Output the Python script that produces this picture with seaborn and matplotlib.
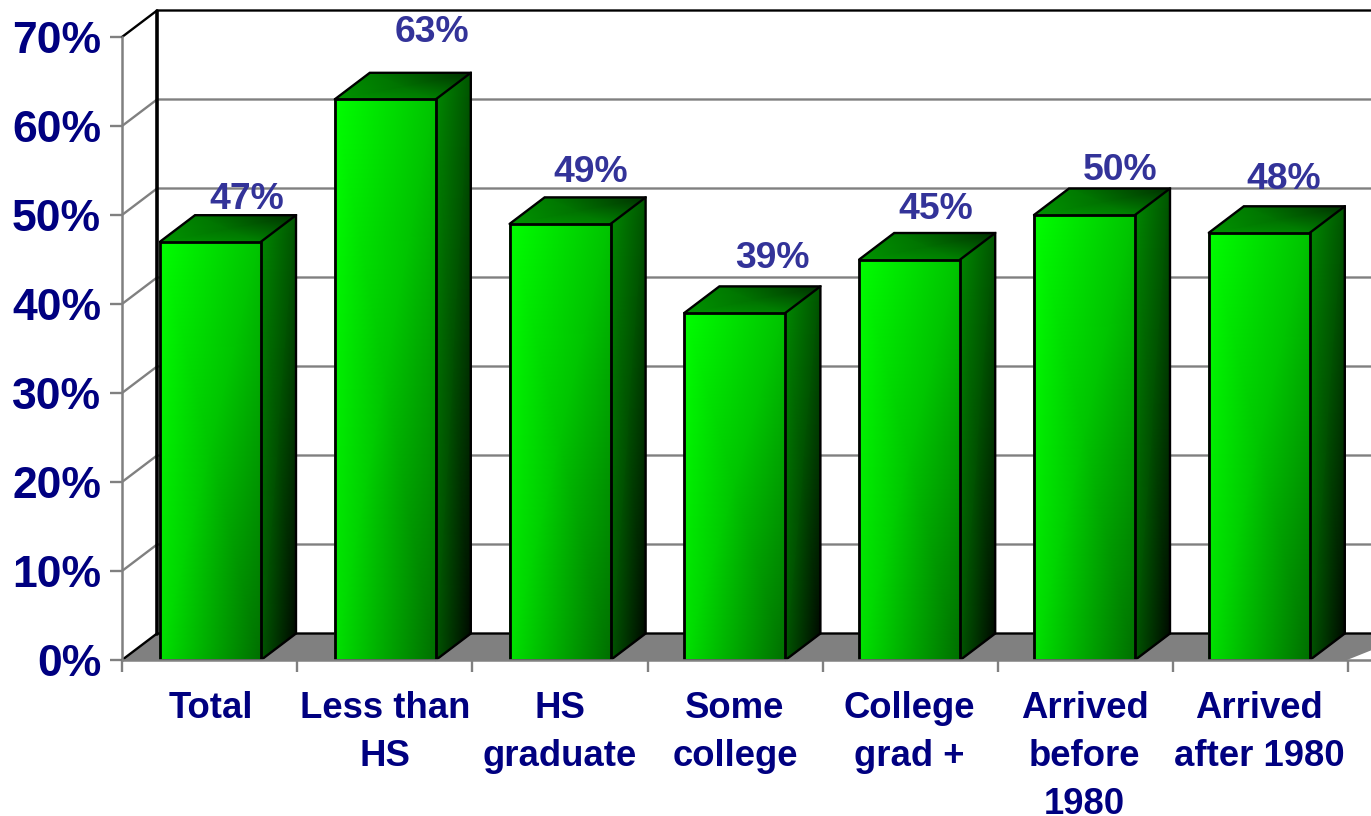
import numpy as np
import pandas as pd
import seaborn as sns
import matplotlib.pyplot as plt
from matplotlib.colors import LinearSegmentedColormap

categories = ['Total', 'Less than\nHS', 'HS\ngraduate', 'Some\ncollege', 'College\ngrad +',
              'Arrived\nbefore\n1980', 'Arrived\nafter 1980']
values = [47, 63, 49, 39, 45, 50, 48]
y_ticks = [0, 10, 20, 30, 40, 50, 60, 70]

# nudges of the value labels from the bar top, in pixels
label_dx = [36, 47, 31, 37, 26, 36, 24]
label_dy = [42, 67, 51, 54, 50, 45, 53]

NAVY = '#000080'
LABEL = '#333399'
GREY = '#808080'

sns.set_style('white')
plt.rcParams['font.family'] = ['Liberation Sans', 'DejaVu Sans']

fig = plt.figure(figsize=(13.71, 8.16), dpi=100)
ax = fig.add_axes([122 / 1371, 156 / 816, 1249 / 1371, 623 / 816])

step = 174.8
tick_step = 175.2

# numeric positions so the 3d faces can be drawn in data coordinates
df = pd.DataFrame({'pos': np.arange(len(categories)), 'val': values})
sns.barplot(data=df, x='pos', y='val', color='#00ff00', width=101 / step, native_scale=True,
            edgecolor='black', linewidth=2.0, ax=ax, zorder=6)
bars = list(ax.patches)

x0 = -(210.5 - 122) / step
ax.set_xlim(x0, x0 + 1249 / step)
ax.set_ylim(0, 70)
depth_x = 35 / step
depth_y = 26.5 / (623 / 70)
xmax = ax.get_xlim()[1]

green = LinearSegmentedColormap.from_list('g', ['#000000', '#00ff00'])


def face(xs, ys, corners, z):
    # corners given in 0-255 green level
    ax.pcolormesh(np.array(xs), np.array(ys), np.array(corners) / 255, cmap=green, vmin=0, vmax=1,
                  shading='gouraud', zorder=z, clip_on=False)


# floor and back wall
ax.fill([x0, x0 + depth_x, xmax, xmax, x0 + (1347 - 122) / step], [0, depth_y, depth_y, depth_y - 1.9, 0],
        color=GREY, zorder=1, clip_on=False, lw=0)
ax.plot([x0, x0 + depth_x, xmax], [0, depth_y, depth_y], color='black', lw=1.7, zorder=2, clip_on=False)

for v in y_ticks[1:]:
    c = 'black' if v == 70 else GREY
    ax.plot([x0, x0 + depth_x, xmax], [v, v + depth_y, v + depth_y], color=c, lw=1.7, zorder=2, clip_on=False,
            solid_joinstyle='miter')
ax.plot([x0 + depth_x] * 2, [depth_y, 70 + depth_y], color='black', lw=2.6, zorder=3, clip_on=False)

for i, bar in enumerate(bars):
    l, r = bar.get_x(), bar.get_x() + bar.get_width()
    h = bar.get_height()
    bar.set_facecolor('none')
    bar.set_joinstyle('miter')
    # front, side and top of the box
    face([[l, r], [l, r]], [[h, h], [0, 0]], [[255, 195], [225, 110]], 4)
    face([[r, r + depth_x], [r, r + depth_x]], [[h, h + depth_y], [0, depth_y]], [[135, 85], [85, 10]], 4)
    face([[l, r], [l + depth_x, r + depth_x]], [[h, h], [h + depth_y, h + depth_y]], [[150, 130], [125, 45]], 4)
    ax.plot([l, l + depth_x, r + depth_x, r + depth_x, r], [h, h + depth_y, h + depth_y, depth_y, 0],
            color='black', lw=1.7, zorder=5, clip_on=False, solid_joinstyle='miter')
    ax.plot([r, r + depth_x], [h, h + depth_y], color='black', lw=1.7, zorder=5, clip_on=False)
    ax.annotate(f'{values[i]}%', xy=((l + r) / 2, h), xytext=(label_dx[i], label_dy[i]),
                textcoords='offset pixels', ha='center', va='center', color=LABEL, fontsize=26.8,
                fontweight='bold', zorder=8, annotation_clip=False)

for s in ['top', 'right']:
    ax.spines[s].set_visible(False)
for s in ['left', 'bottom']:
    ax.spines[s].set_color(GREY)
    ax.spines[s].set_linewidth(1.8)
    ax.spines[s].set_zorder(7)

ax.set_xlabel('')
ax.set_ylabel('')
ax.set_yticks(y_ticks)
ax.set_yticklabels([f'{v}%' for v in y_ticks], fontsize=32, fontweight='bold', color=NAVY)
ax.tick_params(axis='y', left=True, length=8.6, width=1.7, color=GREY, pad=6.5)

ax.set_xticks(range(len(categories)))
ax.set_xticklabels(categories, fontsize=26.3, fontweight='bold', color=NAVY, linespacing=1.49, va='top')
ax.tick_params(axis='x', bottom=False, pad=18.8)
ax.set_xticks([x0 + k * tick_step / step for k in range(8)], minor=True)
ax.tick_params(axis='x', which='minor', bottom=True, length=8.6, width=1.7, color=GREY)

fig.savefig('out.png', dpi=100)
